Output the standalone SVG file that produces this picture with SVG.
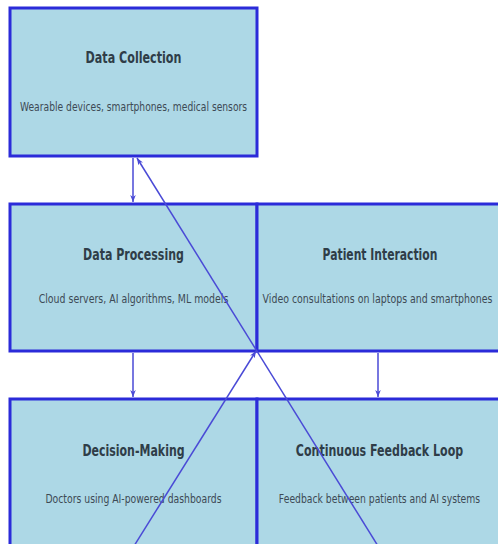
<svg xmlns="http://www.w3.org/2000/svg" width="498" height="544" viewBox="0 0 498 544">
<style>
.box{fill:#add8e6;stroke:#2b2bd9;stroke-width:3}
.t{font-family:"DejaVu Sans","Liberation Sans",sans-serif;font-weight:bold;font-size:16px;fill:#2f3d48;text-anchor:middle}
.s{font-family:"DejaVu Sans","Liberation Sans",sans-serif;font-size:13px;fill:#3d4a55;text-anchor:middle}
.c{stroke:#4a4ad6;stroke-width:1.5;fill:none;marker-end:url(#ah)}
</style>
<defs>
<marker id="ah" viewBox="0 0 10 10" refX="10" refY="5" markerWidth="7" markerHeight="7" orient="auto" markerUnits="userSpaceOnUse">
<path d="M0,1 L10,5 L0,9 L3,5 Z" fill="#4a4ad6"/>
</marker>
</defs>
<rect width="498" height="544" fill="#ffffff"/>
<g id="data-collection">
<rect class="box" x="10" y="8" width="247" height="148"/>
<text class="t" transform="translate(133.5,63) scale(0.7,1)" textLength="137" lengthAdjust="spacingAndGlyphs">Data Collection</text>
<text class="s" transform="translate(133.5,111) scale(0.68,1)" textLength="334" lengthAdjust="spacingAndGlyphs">Wearable devices, smartphones, medical sensors</text>
</g>
<g id="data-processing">
<rect class="box" x="10" y="204" width="247" height="147"/>
<text class="t" transform="translate(133.5,260) scale(0.7,1)" textLength="144" lengthAdjust="spacingAndGlyphs">Data Processing</text>
<text class="s" transform="translate(133.5,303) scale(0.68,1)" textLength="279" lengthAdjust="spacingAndGlyphs">Cloud servers, AI algorithms, ML models</text>
</g>
<g id="patient-interaction">
<rect class="box" x="257" y="204" width="247" height="147"/>
<text class="t" transform="translate(380,260) scale(0.7,1)" textLength="164" lengthAdjust="spacingAndGlyphs">Patient Interaction</text>
<text class="s" transform="translate(377.5,303) scale(0.68,1)" textLength="338" lengthAdjust="spacingAndGlyphs">Video consultations on laptops and smartphones</text>
</g>
<g id="decision-making">
<rect class="box" x="10" y="399" width="247" height="150"/>
<text class="t" transform="translate(133.5,456) scale(0.7,1)" textLength="146" lengthAdjust="spacingAndGlyphs">Decision-Making</text>
<text class="s" transform="translate(133.5,503) scale(0.68,1)" textLength="259" lengthAdjust="spacingAndGlyphs">Doctors using AI-powered dashboards</text>
</g>
<g id="continuous-feedback-loop">
<rect class="box" x="257" y="399" width="247" height="150"/>
<text class="t" transform="translate(379.5,456) scale(0.7,1)" textLength="239" lengthAdjust="spacingAndGlyphs">Continuous Feedback Loop</text>
<text class="s" transform="translate(379.5,503) scale(0.68,1)" textLength="296" lengthAdjust="spacingAndGlyphs">Feedback between patients and AI systems</text>
</g>
<g id="connectors">
<line class="c" x1="133" y1="158" x2="133" y2="202"/>
<line class="c" x1="133" y1="353" x2="133" y2="397"/>
<line class="c" x1="378" y1="353" x2="378" y2="397"/>
<line class="c" x1="378" y1="546" x2="137" y2="158"/>
<line class="c" x1="134" y1="546" x2="256" y2="351"/>
</g>
</svg>
